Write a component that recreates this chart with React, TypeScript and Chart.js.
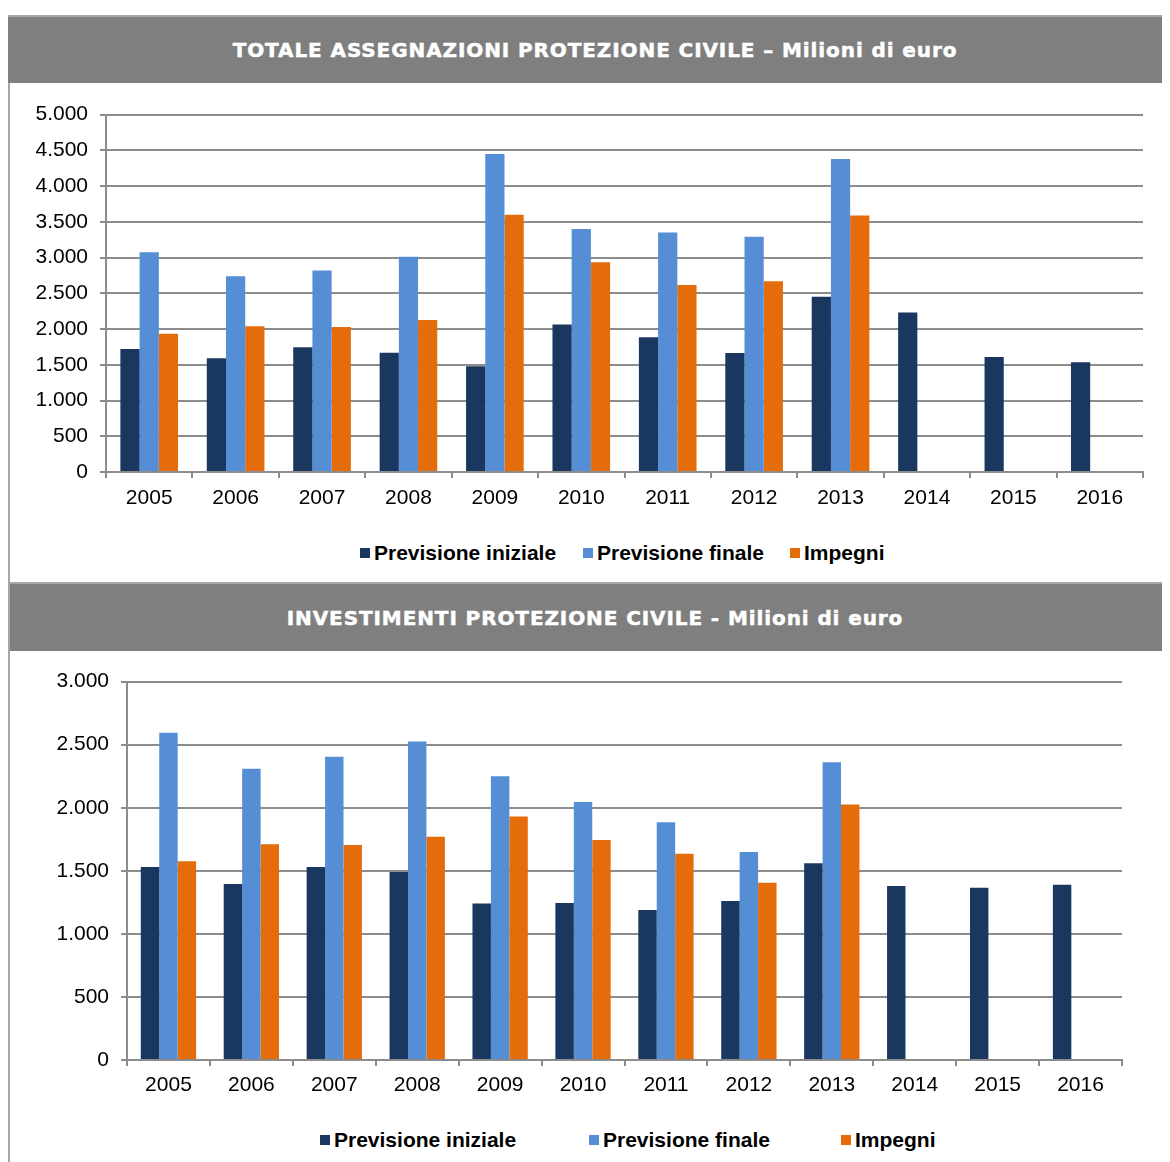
import React, { useEffect, useRef } from "react";
import { Chart, registerables } from "chart.js";

Chart.register(...registerables);

// Categories and series
const years = ["2005", "2006", "2007", "2008", "2009", "2010", "2011", "2012", "2013", "2014", "2015", "2016"];
const seriesNames = ["Previsione iniziale", "Previsione finale", "Impegni"];
const seriesColors = ["#1a375f", "#558ed5", "#e46c0a"];

// Totale assegnazioni (milioni di euro)
const totIniziale = [1720, 1590, 1745, 1670, 1480, 2065, 1885, 1665, 2450, 2230, 1610, 1535];
const totFinale = [3075, 2740, 2820, 3010, 4450, 3400, 3350, 3290, 4380, null, null, null];
const totImpegni = [1935, 2040, 2030, 2125, 3600, 2935, 2615, 2670, 3590, null, null, null];

// Investimenti (milioni di euro)
const invIniziale = [1530, 1395, 1530, 1490, 1240, 1245, 1190, 1260, 1560, 1380, 1365, 1390];
const invFinale = [2595, 2310, 2405, 2525, 2250, 2045, 1885, 1650, 2360, null, null, null];
const invImpegni = [1575, 1710, 1705, 1770, 1930, 1745, 1635, 1405, 2025, null, null, null];

const titleTot = "TOTALE ASSEGNAZIONI PROTEZIONE CIVILE – Milioni di euro";
const titleInv = "INVESTIMENTI PROTEZIONE CIVILE - Milioni di euro";

const GRID = "#8c8c8c";
const FONT = "'Liberation Sans', Arial, sans-serif";

function fmt(v: number): string {
  const s = String(Math.round(v));
  return s.replace(/\B(?=(\d{3})+(?!\d))/g, ".");
}

type BarProps = {
  series: (number | null)[][];
  max: number;
  left: number;
  top: number;
  width: number;
  height: number;
  axisWidth: number;
  padRight: number;
  xAxisHeight: number;
  labelPad: number;
};

function BarChart(p: BarProps) {
  const ref = useRef<HTMLCanvasElement | null>(null);
  useEffect(() => {
    if (!ref.current) return;
    const chart = new Chart(ref.current, {
      type: "bar",
      data: {
        labels: years,
        datasets: p.series.map((d, i) => ({
          label: seriesNames[i],
          data: d,
          backgroundColor: seriesColors[i],
          borderWidth: 0,
          categoryPercentage: 0.667,
          barPercentage: 1,
        })),
      },
      options: {
        animation: false,
        responsive: false,
        maintainAspectRatio: false,
        // the top inset comes from the y-axis label half height plus its padding
        layout: { padding: { top: 0, right: p.padRight, left: 0, bottom: 0 } },
        plugins: { legend: { display: false }, tooltip: { enabled: false }, title: { display: false } },
        scales: {
          x: {
            offset: true,
            grid: { offset: true, drawOnChartArea: false, drawTicks: true, tickLength: 6, color: GRID, lineWidth: 2 },
            border: { display: true, color: GRID, width: 2 },
            ticks: { color: "#000", font: { family: FONT, size: 21 }, padding: p.labelPad, maxRotation: 0, autoSkip: false },
            afterFit: (s: any) => {
              s.height = p.xAxisHeight;
            },
          },
          y: {
            min: 0,
            max: p.max,
            ticks: {
              stepSize: 500,
              color: "#000",
              font: { family: FONT, size: 21 },
              padding: 12,
              callback: (v: any) => fmt(Number(v)),
            },
            grid: { color: GRID, lineWidth: 2, drawTicks: true, tickLength: 6 },
            border: { display: true, color: GRID, width: 2 },
            afterFit: (s: any) => {
              s.width = p.axisWidth;
            },
          },
        },
      },
    });
    return () => chart.destroy();
  }, []);
  return (
    <canvas
      ref={ref}
      width={p.width}
      height={p.height}
      style={{ position: "absolute", left: p.left, top: p.top, width: p.width, height: p.height }}
    />
  );
}

function Header({ top, height, text }: { top: number; height: number; text: string }) {
  return (
    <div
      style={{
        position: "absolute",
        left: 0,
        top,
        width: 1162,
        height,
        background: "#7f7f7f",
        borderTop: "2px solid #a6a6a6",
        boxSizing: "border-box",
        color: "#fff",
        fontFamily: "'DejaVu Sans', sans-serif",
        fontWeight: "bold",
        fontSize: 20,
        letterSpacing: 0.9,
        WebkitTextStroke: "0.5px #fff",
        display: "flex",
        alignItems: "center",
        justifyContent: "center",
        paddingLeft: 12,
      }}
    >
      {text}
    </div>
  );
}

function Legend({ top, lefts }: { top: number; lefts: number[] }) {
  return (
    <>
      {seriesNames.map((name, i) => (
        <div
          key={name}
          style={{
            position: "absolute",
            left: lefts[i],
            top,
            height: 26,
            display: "flex",
            alignItems: "center",
            fontFamily: FONT,
            fontWeight: "bold",
            fontSize: 21,
            color: "#000",
            whiteSpace: "nowrap",
          }}
        >
          <span style={{ display: "inline-block", width: 10, height: 10, background: seriesColors[i], marginRight: 4 }} />
          {name}
        </div>
      ))}
    </>
  );
}

export default function App() {
  return (
    <div style={{ position: "relative", width: 1162, height: 1154, background: "#fff" }}>
      <Header top={7} height={68} text={titleTot} />
      <Header top={574} height={69} text={titleInv} />
      <div style={{ position: "absolute", left: 0, top: 75, width: 2, height: 1079, background: "#a6a6a6" }} />
      <BarChart
        series={[totIniziale, totFinale, totImpegni]}
        max={5000}
        left={0}
        top={82}
        width={1162}
        height={440}
        axisWidth={98}
        padRight={27}
        xAxisHeight={58}
        labelPad={8}
      />
      <Legend top={532} lefts={[352, 575, 782]} />
      <BarChart
        series={[invIniziale, invFinale, invImpegni]}
        max={3000}
        left={0}
        top={649}
        width={1162}
        height={463}
        axisWidth={119}
        padRight={48}
        xAxisHeight={60}
        labelPad={7}
      />
      <Legend top={1119} lefts={[312, 581, 833]} />
    </div>
  );
}
